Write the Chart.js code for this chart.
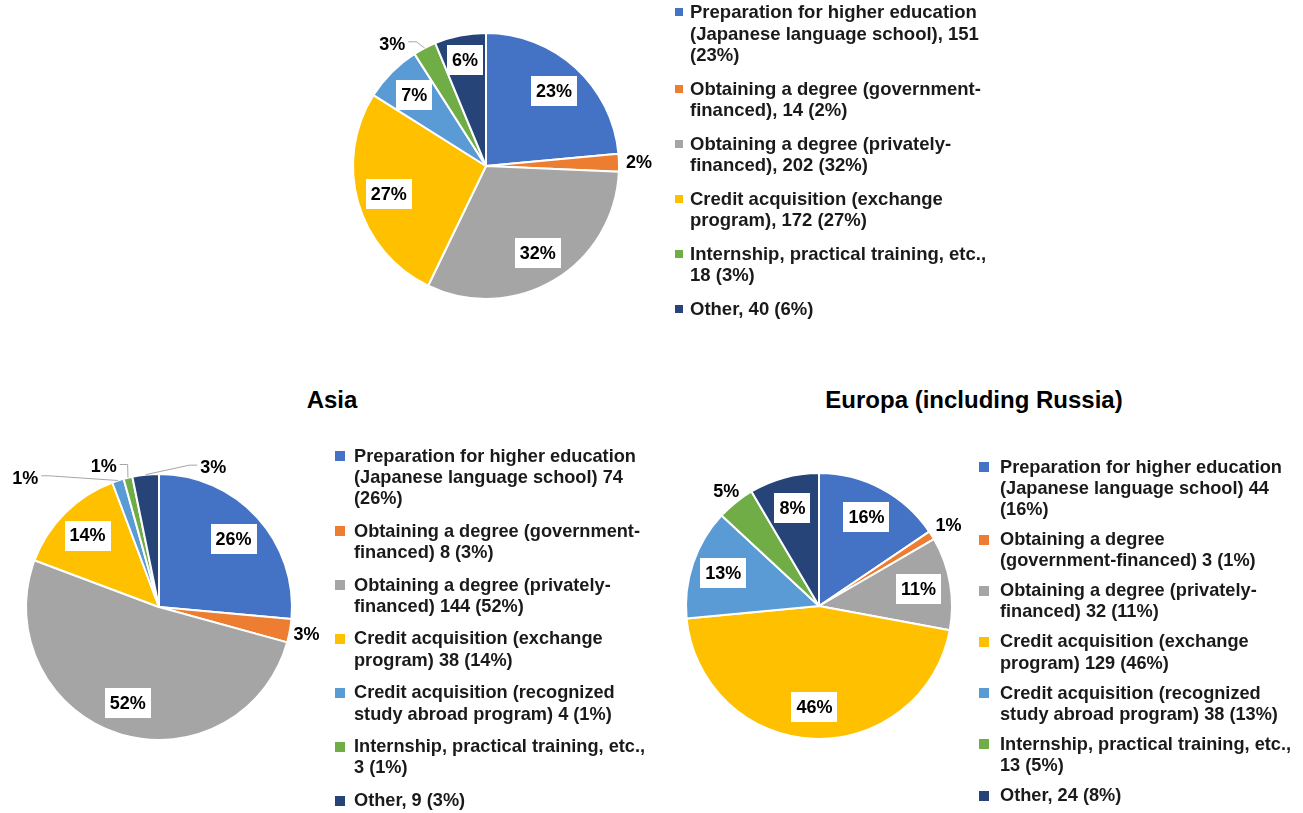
<!DOCTYPE html>
<html>
<head>
<meta charset="utf-8">
<title>Purpose of study abroad</title>
<script src="https://cdn.jsdelivr.net/npm/chart.js@4.4.1/dist/chart.umd.min.js"></script>
<style>
  html, body { margin: 0; padding: 0; background: #fff; }
  #page { position: relative; width: 1303px; height: 813px; overflow: hidden; font-family: "Liberation Sans", Arial, sans-serif; }
  canvas { position: absolute; }
  .title { position: absolute; width: 400px; text-align: center; font-weight: bold; font-size: 24px; line-height: 28px; color: #000; }
  .legend { position: absolute; font-weight: bold; color: #1a1a1a; }
  .legend .item { position: relative; }
  .legend .sw { position: absolute; left: 0; }
</style>
</head>
<body>
<div id="page">
  <canvas id="totalPie" width="400" height="340" style="left:286px; top:-4px"></canvas>
  <canvas id="asiaPie" width="340" height="340" style="left:-11px; top:437px"></canvas>
  <canvas id="europePie" width="340" height="340" style="left:649px; top:436px"></canvas>

  <div class="title" style="left:132px; top:386px">Asia</div>
  <div class="title" style="left:774px; top:386px">Europa (including Russia)</div>

  <div class="legend" id="totalLegend"></div>
  <div class="legend" id="asiaLegend"></div>
  <div class="legend" id="europeLegend"></div>
</div>

<script>
// colours of the slices (same order in every chart)
const sliceColors = ['#4472C4', '#ED7D31', '#A5A5A5', '#FFC000', '#5B9BD5', '#70AD47', '#264478'];

// all regions
const totalCategories = [
  'Preparation for higher education (Japanese language school)',
  'Obtaining a degree (government-financed)',
  'Obtaining a degree (privately-financed)',
  'Credit acquisition (exchange program)',
  'Credit acquisition (recognized study abroad program)',
  'Internship, practical training, etc.',
  'Other'
];
const totalValues = [151, 14, 202, 172, 45, 18, 40];
const totalPct = ['23%', '2%', '32%', '27%', '7%', '3%', '6%'];
const totalLegendShown = [0, 1, 2, 3, 5, 6];

// Asia
const asiaCategories = [
  'Preparation for higher education (Japanese language school)',
  'Obtaining a degree (government-financed)',
  'Obtaining a degree (privately-financed)',
  'Credit acquisition (exchange program)',
  'Credit acquisition (recognized study abroad program)',
  'Internship, practical training, etc.,',
  'Other,'
];
const asiaValues = [74, 8, 144, 38, 4, 3, 9];
const asiaPct = ['26%', '3%', '52%', '14%', '1%', '1%', '3%'];

// Europa
const europeCategories = [
  'Preparation for higher education (Japanese language school)',
  'Obtaining a degree (government-\u2060financed)',
  'Obtaining a degree (privately-financed)',
  'Credit acquisition (exchange program)',
  'Credit acquisition (recognized study abroad program)',
  'Internship, practical training, etc.,',
  'Other,'
];
const europeValues = [44, 3, 32, 129, 38, 13, 24];
const europePct = ['16%', '1%', '11%', '46%', '13%', '5%', '8%'];

// where the percent labels go (box inside slice by default, out = outside, leader = line to slice)
const totalPlaces = [{}, { out: 20 }, {}, {}, {}, { out: 21, shift: -10, leader: true }, { r: 0.81 }];
const asiaPlaces = [{}, { out: 17 }, {}, {}, { out: 53, shift: -28, leader: true }, { out: 18, shift: -8, leader: true }, { out: 17, shift: 27, leader: true }];
const europePlaces = [{}, { out: 20 }, {}, {}, {}, { out: 15 }, {}];

// percent labels on the slices
function sliceLabels(labels, places) {
  return {
    id: 'sliceLabels',
    afterDatasetsDraw(chart) {
      const ctx = chart.ctx;
      const meta = chart.getDatasetMeta(0);
      ctx.save();
      ctx.font = 'bold 18px "Liberation Sans", Arial, sans-serif';
      ctx.textAlign = 'center';
      ctx.textBaseline = 'middle';
      meta.data.forEach(function(arc, i) {
        const p = arc.getProps(['x', 'y', 'startAngle', 'endAngle', 'outerRadius'], true);
        const place = places[i] || {};
        const mid = (p.startAngle + p.endAngle) / 2;
        const ang = mid + (place.shift || 0) * Math.PI / 180;
        const dist = place.out != null ? p.outerRadius + place.out : p.outerRadius * (place.r || 0.76);
        const lx = p.x + Math.cos(ang) * dist;
        const ly = p.y + Math.sin(ang) * dist;
        const text = labels[i];
        const w = ctx.measureText(text).width;

        if (place.leader) {
          const ex = p.x + Math.cos(mid) * p.outerRadius;
          const ey = p.y + Math.sin(mid) * p.outerRadius;
          const dir = ex > lx ? 1 : -1;
          const sx = lx + dir * (w / 2 + 3);
          ctx.strokeStyle = '#a6a6a6';
          ctx.lineWidth = 1;
          ctx.beginPath();
          ctx.moveTo(sx, ly - 2);
          ctx.lineTo(sx + dir * 8, ly - 2);
          ctx.lineTo(ex, ey);
          ctx.stroke();
        }
        if (place.out == null) {
          ctx.fillStyle = '#fff';
          ctx.fillRect(Math.round(lx - w / 2 - 5), Math.round(ly - 15), Math.round(w + 10), 30);
        }
        ctx.fillStyle = '#000';
        ctx.fillText(text, lx, ly + 1);
      });
      ctx.restore();
    }
  };
}

function makePie(id, categories, values, pct, places) {
  return new Chart(document.getElementById(id), {
    type: 'pie',
    data: {
      labels: categories,
      datasets: [{
        data: values,
        backgroundColor: sliceColors,
        borderColor: '#fff',
        borderWidth: 2
      }]
    },
    options: {
      responsive: false,
      animation: false,
      events: [],
      radius: 133,
      layout: { padding: 0 },
      plugins: {
        legend: { display: false },
        tooltip: { enabled: false }
      }
    },
    plugins: [sliceLabels(pct, places)]
  });
}

// legend on the right of each pie
function makeLegend(id, pos, categories, values, pct, sep, shown) {
  const box = document.getElementById(id);
  box.style.left = pos.left + 'px';
  box.style.top = pos.top + 'px';
  box.style.fontSize = pos.font + 'px';
  box.style.lineHeight = pos.lineHeight + 'px';
  shown.forEach(function(i) {
    const item = document.createElement('div');
    item.className = 'item';
    item.style.paddingLeft = pos.indent + 'px';
    item.style.width = pos.width + 'px';
    item.style.marginBottom = pos.gap + 'px';
    const sw = document.createElement('span');
    sw.className = 'sw';
    sw.style.width = pos.swatch + 'px';
    sw.style.height = pos.swatch + 'px';
    sw.style.top = ((pos.lineHeight - pos.swatch) / 2) + 'px';
    sw.style.background = sliceColors[i];
    item.appendChild(sw);
    item.appendChild(document.createTextNode(categories[i] + sep + values[i] + ' (' + pct[i] + ')'));
    box.appendChild(item);
  });
}

makePie('totalPie', totalCategories, totalValues, totalPct, totalPlaces);
makePie('asiaPie', asiaCategories, asiaValues, asiaPct, asiaPlaces);
makePie('europePie', europeCategories, europeValues, europePct, europePlaces);

makeLegend('totalLegend', { left: 675, top: 1, font: 18.5, lineHeight: 21.7, indent: 15, width: 312, gap: 11.6, swatch: 8 },
  totalCategories, totalValues, totalPct, ', ', totalLegendShown);
makeLegend('asiaLegend', { left: 335, top: 445.5, font: 18.2, lineHeight: 21.2, indent: 19, width: 305, gap: 11.5, swatch: 10 },
  asiaCategories, asiaValues, asiaPct, ' ', [0, 1, 2, 3, 4, 5, 6]);
makeLegend('europeLegend', { left: 979, top: 456.5, font: 18.2, lineHeight: 21.2, indent: 21, width: 302, gap: 8.8, swatch: 10 },
  europeCategories, europeValues, europePct, ' ', [0, 1, 2, 3, 4, 5, 6]);
</script>
</body>
</html>
